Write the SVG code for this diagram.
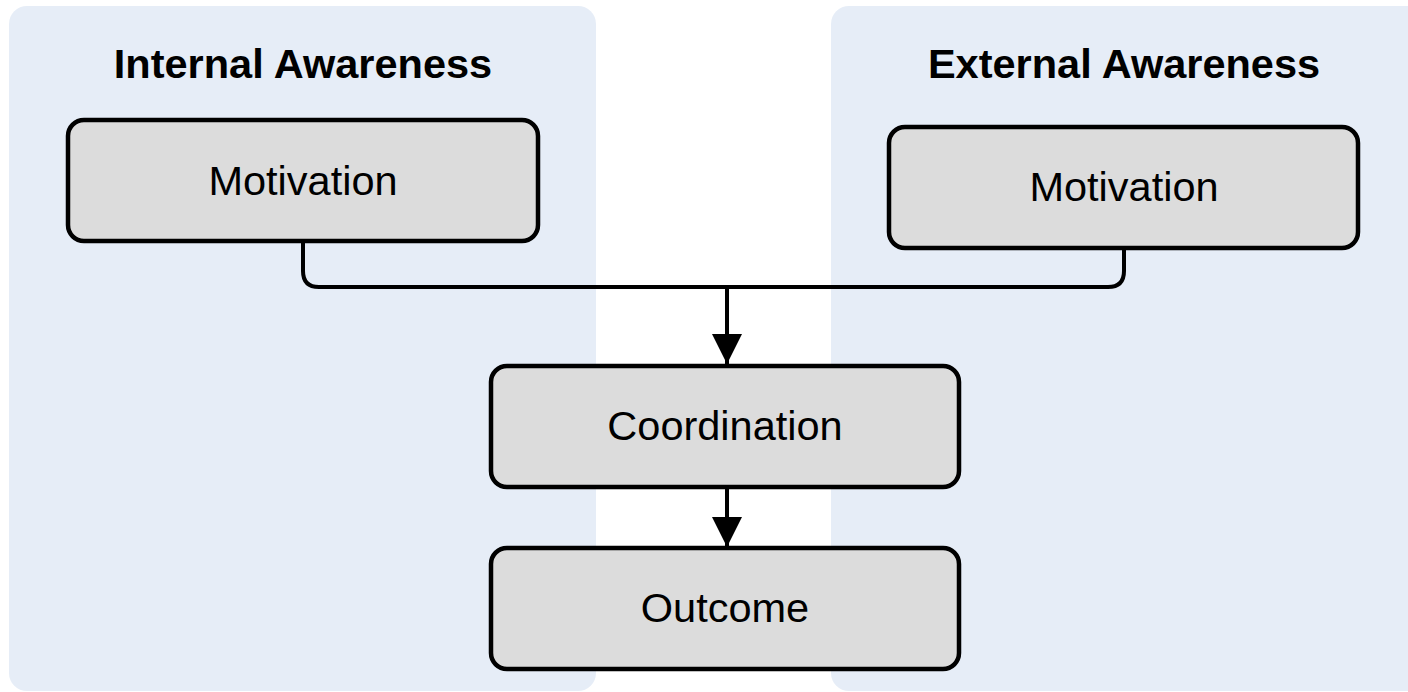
<svg xmlns="http://www.w3.org/2000/svg" width="1408" height="692" viewBox="0 0 1408 692">
<defs>
<style>
.panel{fill:#e6edf7;stroke:none}
.box{fill:#dcdcdc;stroke:#000;stroke-width:4.5}
.title{font-family:"Liberation Sans",Arial,sans-serif;font-weight:bold;font-size:41.5px;fill:#000;text-anchor:middle}
.lbl{font-family:"Liberation Sans",Arial,sans-serif;font-size:41.5px;fill:#000;text-anchor:middle}
.conn{fill:none;stroke:#000;stroke-width:4}
</style>
<marker id="arr" viewBox="0 0 10 10" refX="10" refY="5" markerWidth="7.5" markerHeight="7.5" markerUnits="strokeWidth" orient="auto">
<path d="M0,0 L10,5 L0,10 Z" fill="#000"/>
</marker>
</defs>
<rect width="1408" height="692" fill="#fff"/>
<g id="panel-internal">
<rect class="panel" x="9" y="6" width="587" height="685" rx="18"/>
<text class="title" x="303" y="78">Internal Awareness</text>
</g>
<g id="panel-external">
<rect class="panel" x="831" y="6" width="600" height="685" rx="18"/>
<text class="title" x="1124" y="78">External Awareness</text>
</g>
<g id="connectors">
<path class="conn" d="M303,242 V271 Q303,287 319,287 H1108 Q1124,287 1124,271 V248"/>
<line class="conn" x1="727" y1="287" x2="727" y2="364" marker-end="url(#arr)"/>
<line class="conn" x1="727" y1="487" x2="727" y2="547" marker-end="url(#arr)"/>
</g>
<g id="node-motivation-internal">
<rect class="box" x="68" y="120" width="470" height="121" rx="16"/>
<text class="lbl" x="303" y="195">Motivation</text>
</g>
<g id="node-motivation-external">
<rect class="box" x="889" y="127" width="469" height="121" rx="16"/>
<text class="lbl" x="1124" y="201">Motivation</text>
</g>
<g id="node-coordination">
<rect class="box" x="491" y="366" width="468" height="121" rx="16"/>
<text class="lbl" x="725" y="440">Coordination</text>
</g>
<g id="node-outcome">
<rect class="box" x="491" y="548" width="468" height="121" rx="16"/>
<text class="lbl" x="725" y="622">Outcome</text>
</g>
</svg>
